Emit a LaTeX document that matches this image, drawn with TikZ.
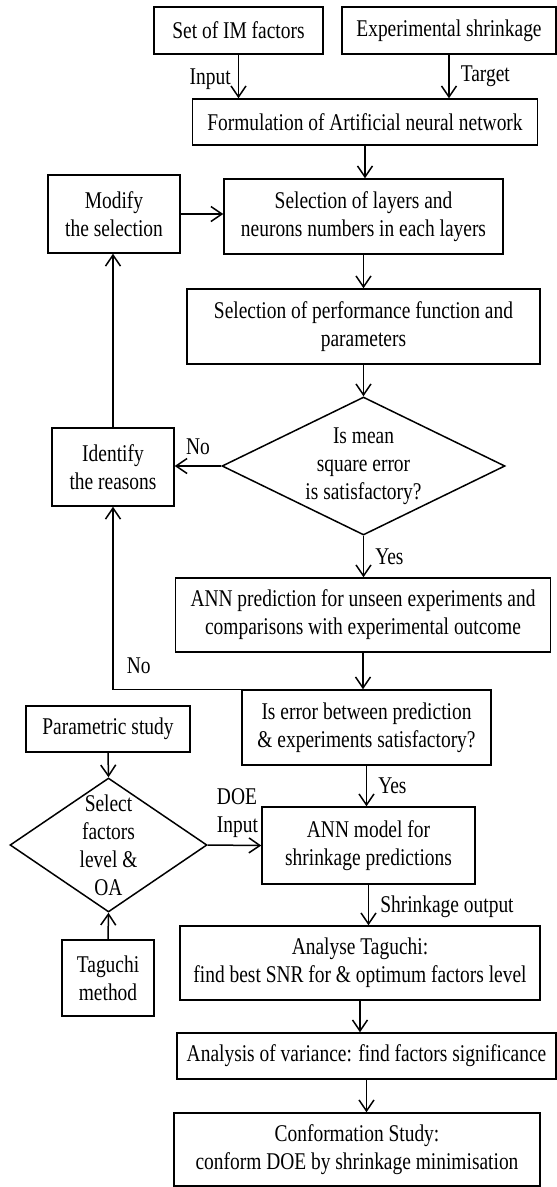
\documentclass[tikz,border=0pt]{standalone}
\usepackage{fontspec}
\setmainfont{Liberation Serif}[FakeStretch=0.81]
\usetikzlibrary{shapes.geometric,arrows.meta}

\tikzset{every picture/.style={line width=1.5pt}}
\tikzset{
  blockbox/.style={draw, rectangle, align=center, inner sep=2pt},
  decision/.style={draw, diamond, inner sep=0pt},
  flowarrow/.style={-{Straight Barb[length=11pt,width=15pt]}},
  lbl/.style={inner sep=1pt}
}

\begin{document}
\begin{tikzpicture}[x=1pt,y=1pt,yscale=-1,xscale=1,font=\fontsize{24}{28}\selectfont]
		\useasboundingbox (0,0) rectangle (557,1187);

		% inputs
		\node[blockbox, minimum width=169, minimum height=47] (ims) at (238.5,30.5) {Set of IM factors};
		\node[blockbox, minimum width=214, minimum height=47] (exps) at (449,30.5) {Experimental shrinkage};
		\node[blockbox, minimum width=345, minimum height=46] (form) at (365,122) {Formulation of Artificial neural network};

		% network set up
		\node[blockbox, minimum width=132, minimum height=78] (modify) at (114,214) {Modify\\the selection};
		\node[blockbox, minimum width=279, minimum height=75] (layers) at (363.5,216.5) {Selection of layers and\\neurons numbers in each layers};
		\node[blockbox, minimum width=353, minimum height=75] (perf) at (363.5,326.5) {Selection of performance function and\\parameters};
		\node[decision, minimum width=283, minimum height=138,
		      label={[align=center]center:Is mean\\square error\\is satisfactory?}] (mse) at (363.5,466) {};
		\node[blockbox, minimum width=122, minimum height=78] (identify) at (113,467) {Identify\\the reasons};

		% validation
		\node[blockbox, minimum width=375, minimum height=74] (pred) at (363,615) {ANN prediction for unseen experiments and\\comparisons with experimental outcome};
		\node[blockbox, minimum width=249, minimum height=75] (err) at (366.5,727.5) {Is error between prediction\\\& experiments satisfactory?};

		% taguchi side
		\node[blockbox, minimum width=164, minimum height=46] (param) at (108,729) {Parametric study};
		\node[decision, minimum width=197, minimum height=134,
		      label={[align=center]center:Select\\factors\\level \&\\OA}] (doe) at (108.5,845) {};
		\node[blockbox, minimum width=92, minimum height=76] (taguchi) at (108,978) {Taguchi\\method};
		\node[blockbox, minimum width=213, minimum height=77] (model) at (368.5,845.5) {ANN model for\\shrinkage predictions};

		% analysis
		\node[blockbox, minimum width=360, minimum height=74] (analyse) at (360,963) {Analyse Taguchi:\\find best SNR for \& optimum factors level};
		\node[blockbox, minimum width=379, minimum height=46] (anova) at (366.5,1056) {Analysis of variance: find factors significance};
		\node[blockbox, minimum width=366, minimum height=73] (conf) at (357,1149.5) {Conformation Study:\\conform DOE by shrinkage minimisation};

		% connectors
		\draw[flowarrow] (ims.south) -- (ims.south |- form.north) node[lbl, midway, left=6pt, yshift=-3pt] {Input};
		\draw[flowarrow] (exps.south) -- (exps.south |- form.north) node[lbl, midway, right=10pt] {Target};
		\draw[flowarrow] (form.south) -- (form.south |- layers.north);
		\draw[flowarrow] (modify.east) -- (modify.east -| layers.west);
		\draw[flowarrow] (layers.south) -- (layers.south |- perf.north);
		\draw[flowarrow] (perf.south) -- (mse.north);
		\draw[flowarrow] (mse.west) -- (mse.west -| identify.east) node[lbl, midway, above=10pt] {No};
		\draw[flowarrow] (identify.north) -- (identify.north |- modify.south);
		\draw[flowarrow] (mse.south) -- (mse.south |- pred.north) node[lbl, midway, right=10pt] {Yes};
		\draw[flowarrow] (pred.south) -- (pred.south |- err.north);
		\draw[flowarrow] (err.north west) -| (identify.south) node[lbl, pos=0.4, above=14pt] {No};
		\draw[flowarrow] (err.south) -- (err.south |- model.north) node[lbl, midway, right=10pt] {Yes};
		\draw[flowarrow] (param.south) -- (doe.north);
		\draw[flowarrow] (taguchi.north) -- (doe.south);
		\draw[flowarrow] (doe.east) -- (model.west) node[lbl, midway, above=6pt, xshift=3pt, align=left] {DOE\\Input};
		\draw[flowarrow] (model.south) -- (model.south |- analyse.north) node[lbl, midway, right=10pt, yshift=-2pt] {Shrinkage output};
		\draw[flowarrow] (analyse.south) -- (analyse.south |- anova.north);
		\draw[flowarrow] (anova.south) -- (anova.south |- conf.north);

		\end{tikzpicture}
\end{document}
